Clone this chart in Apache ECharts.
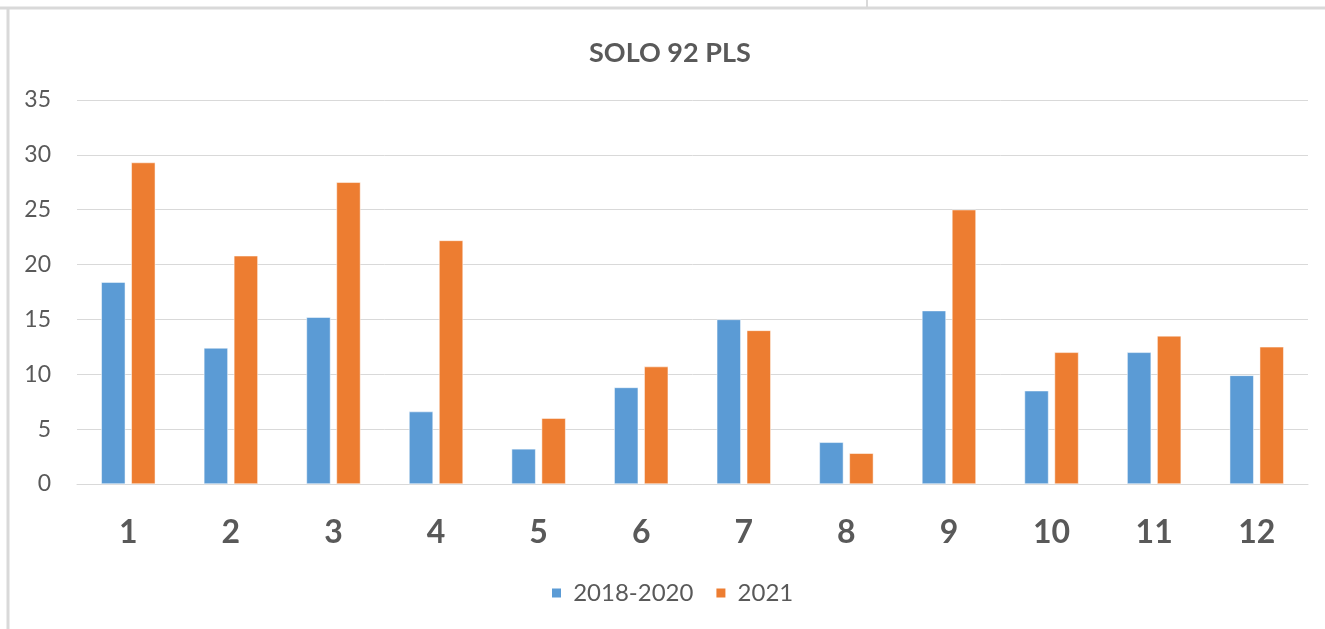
<!DOCTYPE html>
<html>
<head>
<meta charset="utf-8">
<script src="https://cdn.jsdelivr.net/npm/echarts@6/dist/echarts.min.js"></script>
<style>
  html, body { margin: 0; padding: 0; background: #fff; }
  #chart { width: 1325px; height: 629px; }
</style>
</head>
<body>
<div id="chart"></div>
<script>
// values
var months = ['1', '2', '3', '4', '5', '6', '7', '8', '9', '10', '11', '12'];
var avg2018_2020 = [18.4, 12.4, 15.2, 6.6, 3.2, 8.8, 15.0, 3.8, 15.8, 8.5, 12.0, 9.9];
var year2021 = [29.3, 20.8, 27.5, 22.2, 6.0, 10.7, 14.0, 2.8, 25.0, 12.0, 13.5, 12.5];

var font = 'Lato, "Open Sans", sans-serif';
var grey = '#595959';

var chart = echarts.init(document.getElementById('chart'));

var option = {
  backgroundColor: '#ffffff',
  color: ['#5B9BD5', '#ED7D31'],
  animation: false,
  title: {
    text: 'SOLO 92 PLS',
    left: 584,
    top: 35,
    textStyle: { fontFamily: font, fontSize: 27, fontWeight: 'bold', color: grey }
  },
  legend: {
    bottom: 19,
    left: 545,
    itemWidth: 11,
    itemHeight: 11,
    itemGap: 21,
    icon: 'rect',
    formatter: function (name) { return ' ' + name; },
    textStyle: { fontFamily: font, fontSize: 24, color: grey }
  },
  grid: { left: 77, right: 17, top: 100, bottom: 145, containLabel: false },
  xAxis: {
    type: 'category',
    data: months,
    axisLine: { lineStyle: { color: '#d9d9d9', width: 1 } },
    axisTick: { show: false },
    axisLabel: { margin: 33, fontFamily: font, fontSize: 32, fontWeight: 'bold', color: grey }
  },
  yAxis: {
    type: 'value',
    min: 0,
    max: 35,
    interval: 5,
    axisLine: { show: false },
    axisTick: { show: false },
    axisLabel: { margin: 26, fontFamily: font, fontSize: 23, color: grey },
    splitLine: { lineStyle: { color: '#d9d9d9', width: 1 } }
  },
  series: [
    {
      name: '2018-2020',
      type: 'bar',
      data: avg2018_2020,
      barWidth: 24,
      barGap: '25%',
      itemStyle: { borderColor: '#ffffff', borderWidth: 0.5 }
    },
    {
      name: '2021',
      type: 'bar',
      data: year2021,
      barWidth: 24,
      itemStyle: { borderColor: '#ffffff', borderWidth: 0.5 }
    }
  ],
  graphic: [
    { type: 'line', shape: { x1: 0, y1: 8, x2: 1325, y2: 8 }, style: { stroke: '#d9d9d9', lineWidth: 3 } },
    { type: 'line', shape: { x1: 8, y1: 8, x2: 8, y2: 629 }, style: { stroke: '#d9d9d9', lineWidth: 3 } },
    { type: 'line', shape: { x1: 867, y1: 0, x2: 867, y2: 8 }, style: { stroke: '#d9d9d9', lineWidth: 2 } }
  ]
};

chart.setOption(option);
</script>
</body>
</html>
